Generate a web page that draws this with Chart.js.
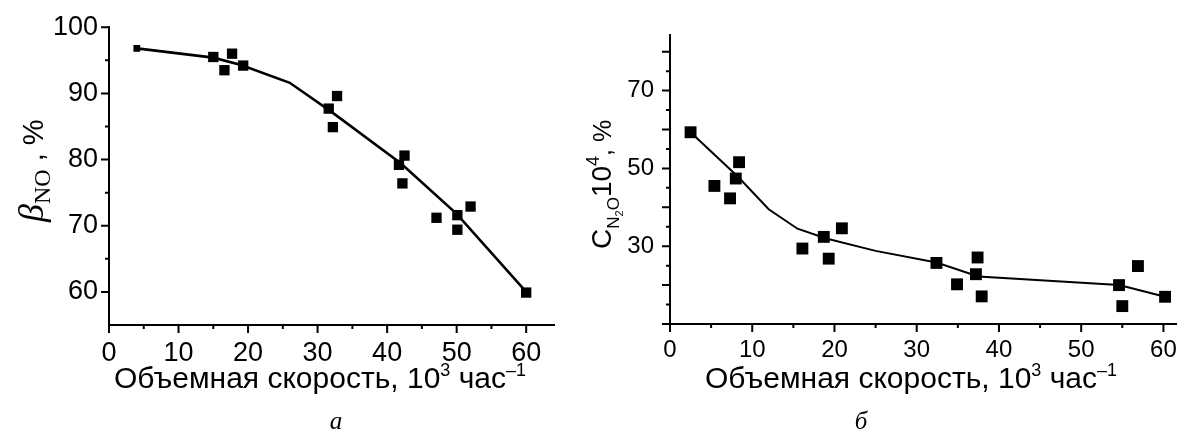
<!DOCTYPE html>
<html>
<head>
<meta charset="utf-8">
<script src="https://cdn.jsdelivr.net/npm/chart.js@4.4.1/dist/chart.umd.min.js"></script>
<style>
  body { margin: 0; background: #fff; }
  #wrap { position: relative; width: 1189px; height: 432px; overflow: hidden; background: #fff; }
  canvas { position: absolute; top: 0; }
  .t { position: absolute; white-space: nowrap; color: #000; line-height: 1; font-family: "Liberation Sans", Arial, sans-serif; }
  .xt { font-size: 30px; transform: translateX(-50%); top: 361px; }
  .xt sup { font-size: 18px; vertical-align: 12px; }
  .cap { font-family: "Liberation Serif", "Times New Roman", serif; font-style: italic; font-size: 25px; transform: translateX(-50%); top: 408px; }
  .yt { transform-origin: 0 0; transform: rotate(-90deg); }
  #ya .b { font-family: "Liberation Serif", serif; font-style: italic; font-size: 36px; }
  #ya .s { font-family: "Liberation Serif", serif; font-size: 24px; vertical-align: -7px; }
  #ya .p { font-size: 29px; }
  #yb { font-size: 28px; }
  #yb .s { font-size: 17px; vertical-align: -8px; }
  #yb .s2 { font-size: 11px; vertical-align: -4px; }
  #yb .e { font-size: 18px; vertical-align: 12px; }
  #yb .p { font-size: 25px; }
</style>
</head>
<body>
<div id="wrap">
  <canvas id="chartA" width="600" height="432" style="left:0"></canvas>
  <canvas id="chartB" width="589" height="432" style="left:600px"></canvas>
  <div class="t yt" id="ya" style="left:13px; top:222px;"><span class="b">β</span><span class="s">NO</span><span class="p"> , %</span></div>
  <div class="t yt" id="yb" style="left:584px; top:249px;">C<span class="s">N<span class="s2">2</span>O</span>10<span class="e">4</span><span class="p">, %</span></div>
  <div class="t xt" style="left:320px;">Объемная скорость, 10<sup>3</sup> час<sup>–1</sup></div>
  <div class="t xt" style="left:911px;">Объемная скорость, 10<sup>3</sup> час<sup>–1</sup></div>
  <div class="t cap" style="left:336px;">а</div>
  <div class="t cap" style="left:861px;">б</div>
</div>
<script>
// (а) степень превращения NO
const betaX = [4, 15, 16.6, 17.7, 19.3, 31.6, 32.2, 32.8, 41.7, 42.5, 42.2, 47.1, 50.1, 50.1, 52, 60];
const betaY = [96.8, 95.5, 93.5, 96.0, 94.2, 87.7, 84.9, 89.6, 79.2, 80.6, 76.4, 71.2, 71.6, 69.4, 72.9, 59.9];
const betaFitX = [4, 15, 19, 26, 32, 42, 50, 60];
const betaFitY = [96.8, 95.4, 94.3, 91.6, 87.2, 79.4, 71.8, 60];

// (б) концентрация N2O
const n2oX = [2.5, 5.4, 7.3, 8.0, 8.4, 16.1, 18.7, 19.3, 20.9, 32.4, 34.9, 37.2, 37.4, 37.9, 54.6, 55.0, 56.9, 60.2];
const n2oY = [59.3, 45.5, 42.3, 47.4, 51.6, 29.4, 32.4, 26.8, 34.6, 25.7, 20.2, 22.8, 27.1, 17.1, 20.0, 14.6, 24.9, 17.0];
const n2oFitX = [2.5, 8.3, 12, 15.5, 19, 25, 32.4, 37.5, 54.6, 60.2];
const n2oFitY = [59.3, 47.8, 39.5, 34.5, 32, 28.8, 25.8, 22.2, 20, 17];

// ticks
const aXMajor = [0, 10, 20, 30, 40, 50, 60];
const aXMinor = [5, 15, 25, 35, 45, 55];
const aYMajor = [60, 70, 80, 90, 100];
const aYMinor = [65, 75, 85, 95];
const bXMajor = [0, 10, 20, 30, 40, 50, 60];
const bXMinor = [5, 15, 25, 35, 45, 55];
const bYMajor = [10, 20, 30, 40, 50, 60, 70, 80];
const bYMinor = [15, 25, 35, 45, 55, 65, 75];
const bYLabels = [30, 50, 70];

const sans = '"Liberation Sans", Arial, sans-serif';

const toXY = (xs, ys) => xs.map((x, i) => ({ x: x, y: ys[i] }));

// short/long tick marks drawn on the outside of the axes
const tickMarks = {
    id: 'tickMarks',
    afterDraw(chart, args, opts) {
        const { ctx, scales: { x, y } } = chart;
        const bottom = chart.chartArea.bottom;
        const left = chart.chartArea.left;
        ctx.save();
        ctx.strokeStyle = '#000';
        ctx.lineWidth = 2;
        ctx.beginPath();
        opts.xMajor.forEach(v => { const px = x.getPixelForValue(v); ctx.moveTo(px, bottom); ctx.lineTo(px, bottom + 8); });
        opts.xMinor.forEach(v => { const px = x.getPixelForValue(v); ctx.moveTo(px, bottom); ctx.lineTo(px, bottom + 4); });
        opts.yMajor.forEach(v => { const py = y.getPixelForValue(v); ctx.moveTo(left, py); ctx.lineTo(left - 8, py); });
        opts.yMinor.forEach(v => { const py = y.getPixelForValue(v); ctx.moveTo(left, py); ctx.lineTo(left - 4, py); });
        ctx.stroke();
        ctx.restore();
    }
};

function makeChart(id, cfg) {
    return new Chart(document.getElementById(id), {
        type: 'scatter',
        data: {
            datasets: [
                {
                    data: toXY(cfg.px, cfg.py),
                    pointStyle: 'rect',
                    pointRadius: cfg.pointRadius,
                    backgroundColor: '#000',
                    borderWidth: 0,
                    clip: false
                },
                {
                    type: 'line',
                    data: toXY(cfg.fx, cfg.fy),
                    borderColor: '#000',
                    borderWidth: cfg.lineWidth,
                    pointRadius: 0,
                    tension: 0,
                    fill: false,
                    clip: false
                }
            ]
        },
        options: {
            responsive: false,
            animation: false,
            layout: { padding: cfg.padding },
            plugins: {
                legend: { display: false },
                tooltip: { enabled: false },
                tickMarks: { xMajor: cfg.xMajor, xMinor: cfg.xMinor, yMajor: cfg.yMajor, yMinor: cfg.yMinor }
            },
            scales: {
                x: {
                    type: 'linear',
                    min: cfg.xMin, max: cfg.xMax,
                    afterBuildTicks: s => { s.ticks = cfg.xMajor.map(v => ({ value: v })); },
                    afterFit: s => { s.height = cfg.xHeight; },
                    grid: { display: false, drawTicks: false },
                    border: { display: true, color: '#000', width: 2 },
                    ticks: { color: '#000', font: { family: sans, size: cfg.fontSize }, padding: cfg.xPad, maxRotation: 0, autoSkip: false }
                },
                y: {
                    type: 'linear',
                    min: cfg.yMin, max: cfg.yMax,
                    afterBuildTicks: s => { s.ticks = cfg.yLabels.map(v => ({ value: v })); },
                    afterFit: s => { s.width = cfg.yWidth; },
                    grid: { display: false, drawTicks: false },
                    border: { display: true, color: '#000', width: 2 },
                    ticks: { color: '#000', font: { family: sans, size: cfg.fontSize }, padding: cfg.yPad, autoSkip: false }
                }
            }
        },
        plugins: [tickMarks]
    });
}

makeChart('chartA', {
    px: betaX, py: betaY, fx: betaFitX, fy: betaFitY,
    pointRadius: ctx => ctx.dataIndex === 0 ? 4.8 : 7.3,
    lineWidth: 2.6,
    padding: { left: 0, top: 25, right: 46, bottom: 0 },
    xMin: 0, xMax: 64, yMin: 55, yMax: 100,
    xMajor: aXMajor, xMinor: aXMinor, yMajor: aYMajor, yMinor: aYMinor, yLabels: aYMajor,
    xHeight: 107, yWidth: 109, fontSize: 27, xPad: 12, yPad: 11
});

makeChart('chartB', {
    px: n2oX, py: n2oY, fx: n2oFitX, fy: n2oFitY,
    pointRadius: 8.4,
    lineWidth: 2,
    padding: { left: 0, top: 35, right: 0, bottom: 0 },
    xMin: 0, xMax: 61.6, yMin: 10, yMax: 84.3,
    xMajor: bXMajor, xMinor: bXMinor, yMajor: bYMajor, yMinor: bYMinor, yLabels: bYLabels,
    xHeight: 108, yWidth: 70, fontSize: 24, xPad: 12, yPad: 16
});
</script>
</body>
</html>
